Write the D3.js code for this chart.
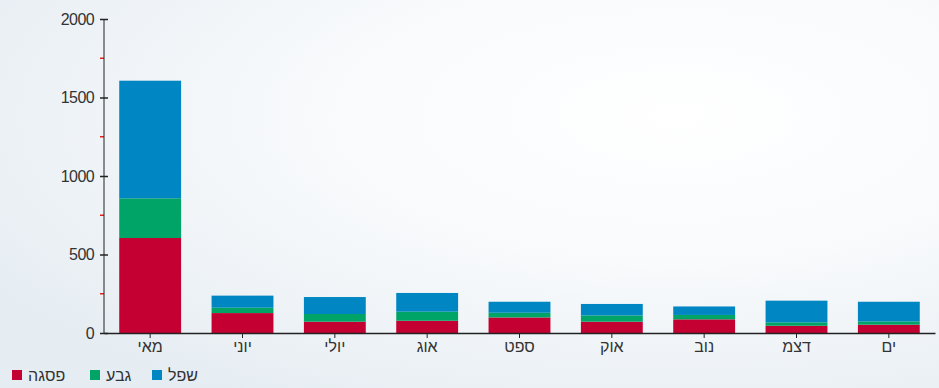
<!DOCTYPE html>
<html><head><meta charset="utf-8">
<script src="https://cdn.jsdelivr.net/npm/d3@7"></script>
<style>
html,body{margin:0;padding:0;}
body{width:939px;height:388px;overflow:hidden;}
text{font-family:"Liberation Sans",Arial,sans-serif;}
</style></head>
<body>
<svg id="chart" width="939" height="388"></svg>
<script>
const categories = ["מאי","יוני","יולי","אוג","ספט","אוק","נוב","דצמ","ים"];
const seriesNames = ["פסגה","גבע","שפל"];
const pisga = [605,127,72,78,99,72,87,46,53];
const geva  = [253,34,49,58,30,40,28,22,21];
const shefel= [749,77,108,119,70,73,54,138,125];
const yTicks = [0,500,1000,1500,2000];
const yMinorTicks = [250,750,1250,1750];
const colors = ["#c40032","#00a466","#0086c2"];

const svg = d3.select("#chart");
const W = 939, H = 388;
const m = {left:104, right:4, top:19, bottom:55};

const defs = svg.append("defs");
const g1 = defs.append("radialGradient").attr("id","bg").attr("cx","0.72").attr("cy","0.3").attr("r","0.85");
g1.append("stop").attr("offset","0%").attr("stop-color","#ffffff");
g1.append("stop").attr("offset","45%").attr("stop-color","#f8fafc");
g1.append("stop").attr("offset","100%").attr("stop-color","#e6edf2");
svg.append("rect").attr("width",W).attr("height",H).attr("fill","url(#bg)");

const data = categories.map((c,i)=>({cat:c, "פסגה":pisga[i], "גבע":geva[i], "שפל":shefel[i]}));
const stack = d3.stack().keys(seriesNames)(data);

const x = d3.scaleBand().domain(categories).range([m.left, W-m.right]).paddingInner(0.33).paddingOuter(0.165);
const y = d3.scaleLinear().domain([0,2000]).range([H-m.bottom, m.top]);

svg.append("g").selectAll("g").data(stack).join("g")
  .attr("fill",(d,i)=>colors[i])
  .selectAll("rect").data(d=>d).join("rect")
  .attr("x",d=>x(d.data.cat))
  .attr("width",x.bandwidth())
  .attr("y",d=>y(d[1]))
  .attr("height",d=>y(d[0])-y(d[1]));

// minor red ticks
svg.append("g").selectAll("line").data(yMinorTicks).join("line")
  .attr("x1",m.left-4).attr("x2",m.left).attr("y1",d=>y(d)).attr("y2",d=>y(d))
  .attr("stroke","#e8201a").attr("stroke-width",1.5);

const yAxis = svg.append("g").attr("transform",`translate(${m.left},0)`)
  .call(d3.axisLeft(y).tickValues(yTicks).tickSize(4).tickPadding(6).tickFormat(d3.format("d")));
yAxis.select(".domain").attr("stroke","#222").attr("d",`M0,${y(2000)}V${y(0)}`);
yAxis.selectAll(".tick line").attr("x1",4).attr("x2",-4).attr("stroke","#222").attr("stroke-width",1.5);
yAxis.selectAll("text").attr("font-size","16px").attr("fill","#333").attr("letter-spacing","-0.6px");

const xAxis = svg.append("g").attr("transform",`translate(0,${y(0)})`)
  .call(d3.axisBottom(x).tickSize(5).tickPadding(3).tickSizeOuter(0));
xAxis.select(".domain").attr("stroke","#222").attr("stroke-width",1.5);
xAxis.selectAll(".tick line").attr("stroke","#222");
xAxis.selectAll("text").attr("font-size","16px").attr("fill","#333");

// legend
const leg = svg.append("g");
const legX = [12, 90, 152];
seriesNames.forEach((n,i)=>{
  leg.append("rect").attr("x",legX[i]).attr("y",370).attr("width",10).attr("height",10).attr("fill",colors[i]);
  leg.append("text").attr("x",legX[i]+16).attr("y",381).attr("font-size","16px").attr("fill","#333")
    .attr("text-anchor","start").text(n);
});
</script>
</body></html>
